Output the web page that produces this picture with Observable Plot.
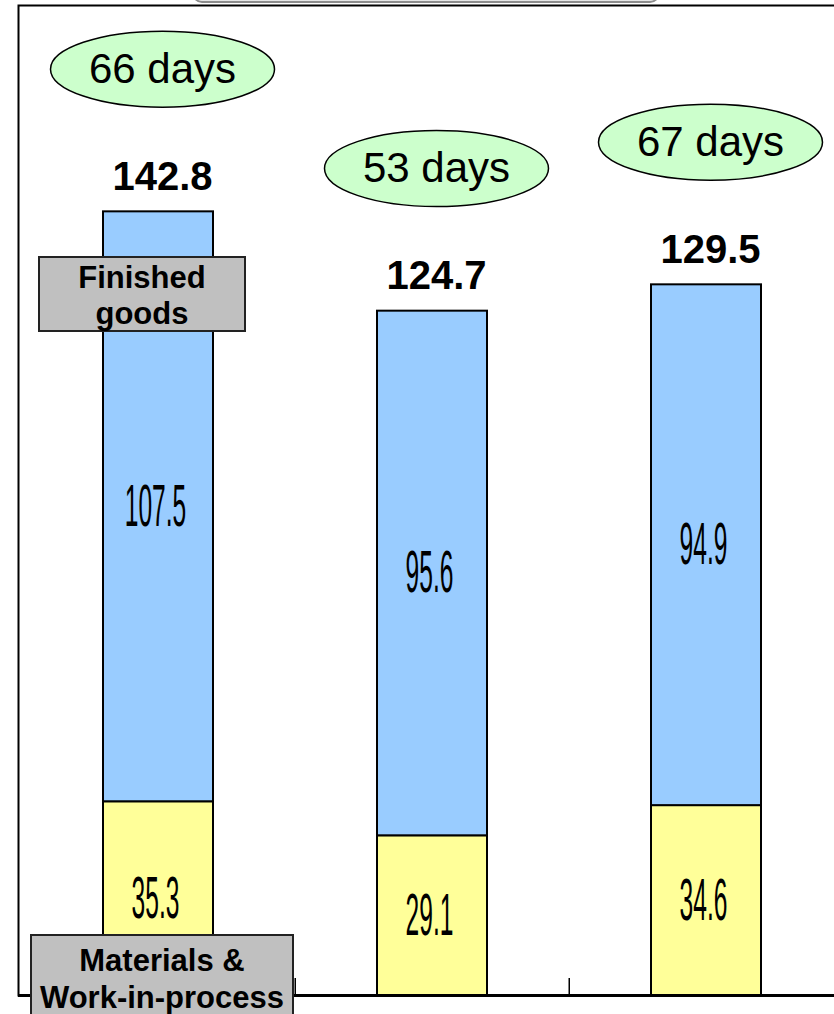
<!DOCTYPE html>
<html>
<head>
<meta charset="utf-8">
<script src="https://cdn.jsdelivr.net/npm/d3@7"></script>
<script src="https://cdn.jsdelivr.net/npm/@observablehq/plot@0.6"></script>
<style>
  html, body { margin: 0; padding: 0; background: #fff; }
  #wrap { position: relative; width: 834px; height: 1014px; overflow: hidden; background: #fff; }
  .box { position: absolute; box-sizing: border-box; background: #c0c0c0; border: 2px solid #222;
         font-family: "Liberation Sans", Arial, sans-serif; font-weight: bold; font-size: 31px;
         text-align: center; color: #000; }
  #titlebox { position: absolute; left: 192px; top: -30px; width: 468px; height: 33px; box-sizing: border-box;
              background: #e6e6e6; border: 2px solid #8c8c8c; border-radius: 10px; }
</style>
</head>
<body>
<div id="wrap">
  <div id="chart"></div>
  <div id="titlebox"></div>
  <div class="box" style="left:38px;top:256px;width:208px;height:76px;line-height:36px;padding-top:2px;">Finished<br>goods</div>
  <div class="box" style="left:30px;top:934px;width:264px;height:100px;line-height:37px;padding-top:6px;">Materials &amp;<br>Work-in-process</div>
</div>
<script>
// ---- data ----
const periods = ["Period 1", "Period 2", "Period 3"];
const materialsWip = [35.3, 29.1, 34.6];
const finishedGoods = [107.5, 95.6, 94.9];
const totals = [142.8, 124.7, 129.5];
const daysLabels = ["66 days", "53 days", "67 days"];
const partNames = ["Materials & Work-in-process", "Finished goods"];
const partColors = ["#ffff99", "#99ccff"];

const rows = periods.flatMap((p, i) => [
  {period: p, part: partNames[0], value: materialsWip[i]},
  {period: p, part: partNames[1], value: finishedGoods[i]}
]);
const tots = periods.map((p, i) => ({period: p, total: totals[i], days: daysLabels[i]}));

// ellipse symbol for the "days" bubbles
const ellipse = {
  draw(ctx) {
    const a = 112, b = 38, k = 0.5523;
    ctx.moveTo(a, 0);
    ctx.bezierCurveTo(a, k * b, k * a, b, 0, b);
    ctx.bezierCurveTo(-k * a, b, -a, k * b, -a, 0);
    ctx.bezierCurveTo(-a, -k * b, -k * a, -b, 0, -b);
    ctx.bezierCurveTo(k * a, -b, a, -k * b, a, 0);
    ctx.closePath();
  }
};

const font = "Liberation Sans, Arial, sans-serif";
const segFont = "Liberation Sans, Arial, Helvetica, sans-serif";

const plot = Plot.plot({
  width: 850,
  height: 1014,
  marginLeft: 18,
  marginRight: 0,
  marginTop: 5,
  marginBottom: 19,
  style: "max-width:none;background:white;overflow:hidden;font-family:'Liberation Sans',Arial,sans-serif;",
  x: {type: "band", domain: periods, range: [19.75, 843.25], paddingInner: 0.6, paddingOuter: 0.3, axis: null},
  y: {domain: [0, 180.4], axis: null},
  color: {domain: partNames, range: partColors},
  marks: [
    Plot.frame({stroke: "#000", strokeWidth: 2}),
    Plot.barY(rows, {x: "period", y: "value", fill: "part", stroke: "#000", strokeWidth: 2}),
    Plot.text(rows, Plot.stackY({
      x: "period", y: "value", text: d => d.value.toFixed(1),
      fontFamily: segFont, fontSize: 60, dy: 19, dx: -3
    })),
    Plot.text(tots, {x: "period", y: "total", text: d => d.total.toFixed(1),
      dy: -35, dx: 4, fontSize: 40, fontWeight: "bold", fontFamily: font}),
    Plot.dot(tots, {x: "period", y: d => d.total + 26, symbol: ellipse,
      fill: "#ccffcc", stroke: "#000", strokeWidth: 1.5, dx: 4}),
    Plot.text(tots, {x: "period", y: d => d.total + 26, text: "days",
      dx: 4, dy: 0, fontSize: 42, fontFamily: font}),
    Plot.ruleY([0], {stroke: "#000", strokeWidth: 3}),
    Plot.ruleX(periods.slice(1), {x: d => d, y1: 0, y2: 3.1, dx: -137.25, stroke: "#000", strokeWidth: 1.5})
  ]
});

document.getElementById("chart").appendChild(plot);

// compress the segment value labels horizontally (tall condensed look)
d3.select(plot).selectAll(`g[font-family="${segFont}"] text`).each(function() {
  const el = this;
  const t = el.getAttribute("transform") || "";
  const x = +el.getAttribute("x") || 0;
  const y = +el.getAttribute("y") || 0;
  el.removeAttribute("x");
  el.removeAttribute("y");
  el.setAttribute("transform", `${t} translate(${x},${y}) scale(0.41,1)`);
});
</script>
</body>
</html>
